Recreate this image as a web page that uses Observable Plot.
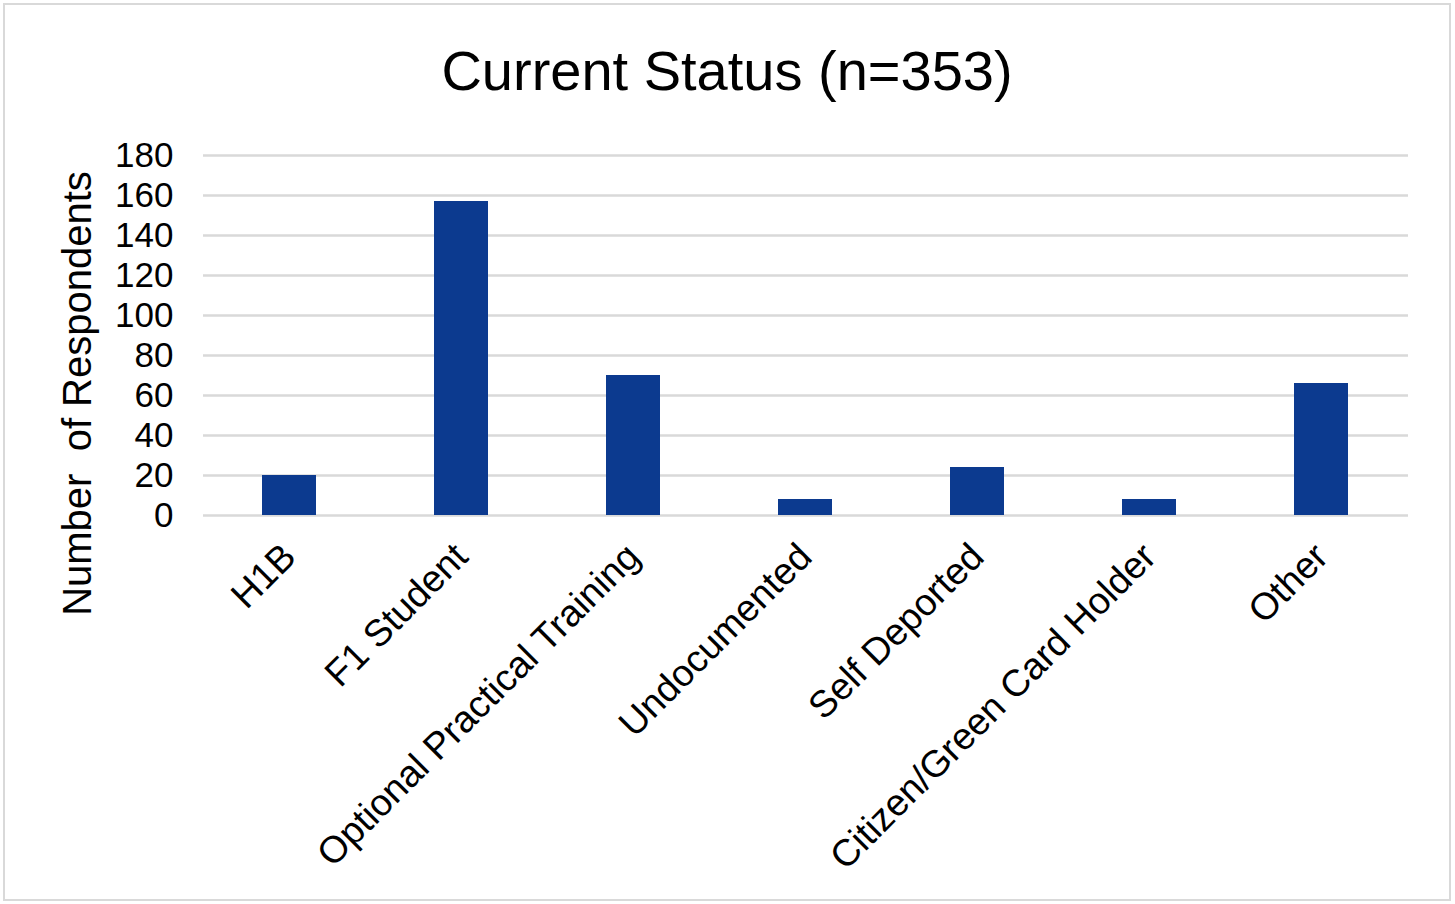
<!DOCTYPE html>
<html>
<head>
<meta charset="utf-8">
<script src="https://cdn.jsdelivr.net/npm/d3@7"></script>
<script src="https://cdn.jsdelivr.net/npm/@observablehq/plot@0.6"></script>
<style>
  html, body { margin: 0; padding: 0; background: #fff; }
  #frame {
    position: absolute; left: 3px; top: 3px; width: 1448px; height: 898px;
    border: 2px solid #d9d9d9; box-sizing: border-box; background: #fff;
    font-family: "Liberation Sans", Arial, sans-serif; overflow: hidden;
  }
  #title {
    position: absolute; left: 0; width: 100%; top: 34px; text-align: center;
    font-size: 56px; color: #000; line-height: 64px;
  }
  #chart { position: absolute; left: -5px; top: 110px; width: 1455px; }
  #chart svg { max-width: none !important; overflow: visible; }
</style>
</head>
<body>
<div id="frame">
  <div id="title">Current Status (n=353)</div>
  <div id="chart"></div>
</div>
<script>
const categories = ["H1B", "F1 Student", "Optional Practical Training", "Undocumented", "Self Deported", "Citizen/Green Card Holder", "Other"];
const counts = [20, 157, 70, 8, 24, 8, 66];
const yTicks = [0, 20, 40, 60, 80, 100, 120, 140, 160, 180];
const yLabel = "Number  of Respondents";

const data = categories.map((c, i) => ({category: c, count: counts[i]}));

const chart = Plot.plot({
  width: 1455,
  height: 780,
  marginTop: 40,
  marginBottom: 380,
  marginLeft: 203,
  marginRight: 47,
  style: {fontFamily: "'Liberation Sans', Arial, sans-serif", fontSize: "35px", color: "#000", background: "transparent", maxWidth: "none"},
  x: {domain: categories, paddingInner: 0.686, paddingOuter: 0.343, label: null},
  y: {domain: [0, 180], label: null},
  marks: [
    Plot.gridY(yTicks, {stroke: "#d9d9d9", strokeOpacity: 1, strokeWidth: 2.5}),
    Plot.barY(data, {x: "category", y: "count", fill: "#0c3a8f"}),
    Plot.axisY(yTicks, {tickSize: 0, tickPadding: 30, fontSize: 35, label: null}),
    Plot.axisX({tickSize: 0, tickRotate: -45, tickPadding: 35, fontSize: 37.5, label: null}),
    Plot.text([yLabel], {text: d => d, frameAnchor: "left", textAnchor: "middle", rotate: -90, dx: -125, dy: 58, fontSize: 40, fill: "#000"})
  ]
});
document.getElementById("chart").appendChild(chart);
</script>
</body>
</html>
